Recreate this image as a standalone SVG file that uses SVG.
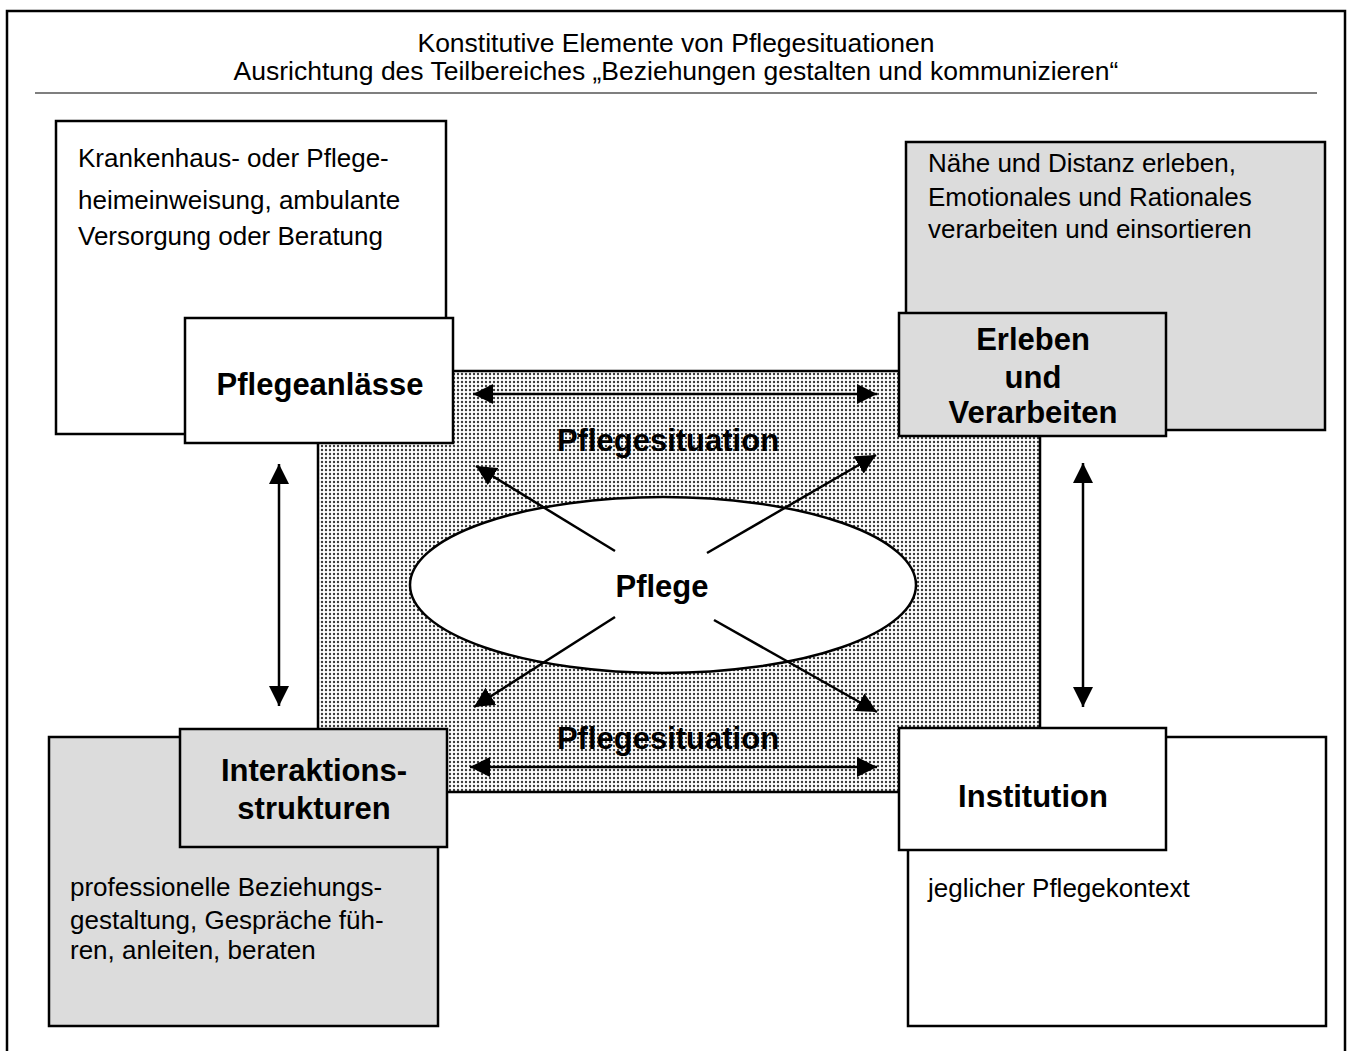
<svg xmlns="http://www.w3.org/2000/svg" width="1352" height="1051" viewBox="0 0 1352 1051">
<style>
.box{stroke:#000;stroke-width:2.5}
.w{fill:#fff}
.g{fill:#dcdcdc}
.t{font-family:"Liberation Sans",Arial,sans-serif;font-size:26px;fill:#000}
.h{font-family:"Liberation Sans",Arial,sans-serif;font-size:26.5px;fill:#000;text-anchor:middle}
.b{font-family:"Liberation Sans",Arial,sans-serif;font-size:31px;font-weight:bold;fill:#000;text-anchor:middle}
.c{stroke:#000;stroke-width:2.5;fill:none;marker-start:url(#ah);marker-end:url(#ah)}
.d{stroke:#000;stroke-width:2.5;fill:none;marker-end:url(#ah)}
</style>
<defs>
<pattern id="dots" patternUnits="userSpaceOnUse" width="4" height="4">
<rect width="4" height="4" fill="#fff"/>
<circle cx="2" cy="2" r="1.2" fill="#3a3a3a"/>
</pattern>
<marker id="ah" viewBox="0 0 20 20" refX="20" refY="10" markerWidth="20" markerHeight="20" markerUnits="userSpaceOnUse" orient="auto-start-reverse">
<path d="M0,0 L20,10 L0,20 z" fill="#000"/>
</marker>
</defs>
<rect width="1352" height="1051" fill="#fff"/>
<rect x="7" y="11" width="1338" height="1100" fill="none" stroke="#000" stroke-width="2.5"/>
<g id="title">
<text class="h" x="676" y="52">Konstitutive Elemente von Pflegesituationen</text>
<text class="h" x="676" y="80">Ausrichtung des Teilbereiches „Beziehungen gestalten und kommunizieren“</text>
<line x1="35" y1="93" x2="1317" y2="93" stroke="#555" stroke-width="1.5"/>
</g>
<g id="desc-anlaesse">
<rect class="box w" x="56" y="121" width="390" height="313"/>
<text class="t" x="78" y="167">Krankenhaus- oder Pflege-</text>
<text class="t" x="78" y="209">heimeinweisung, ambulante</text>
<text class="t" x="78" y="245">Versorgung oder Beratung</text>
</g>
<g id="desc-erleben">
<rect class="box g" x="906" y="142" width="419" height="288"/>
<text class="t" x="928" y="172">Nähe und Distanz erleben,</text>
<text class="t" x="928" y="206">Emotionales und Rationales</text>
<text class="t" x="928" y="238">verarbeiten und einsortieren</text>
</g>
<g id="desc-interaktion">
<rect class="box g" x="49" y="737" width="389" height="289"/>
<text class="t" x="70" y="896">professionelle Beziehungs-</text>
<text class="t" x="70" y="929">gestaltung, Gespräche füh-</text>
<text class="t" x="70" y="959">ren, anleiten, beraten</text>
</g>
<g id="desc-institution">
<rect class="box w" x="908" y="737" width="418" height="289"/>
<text class="t" x="928" y="897">jeglicher Pflegekontext</text>
</g>
<g id="pflegesituation">
<rect x="318" y="371" width="722" height="421" fill="url(#dots)" stroke="#000" stroke-width="2.5"/>
<text class="b" x="668" y="451">Pflegesituation</text>
<text class="b" x="668" y="749">Pflegesituation</text>
</g>
<g id="pflegeanlaesse">
<rect class="box w" x="185" y="318" width="268" height="125"/>
<text class="b" x="320" y="395">Pflegeanlässe</text>
</g>
<g id="erleben">
<rect class="box g" x="899" y="313" width="267" height="123"/>
<text class="b" x="1033" y="350">Erleben</text>
<text class="b" x="1033" y="388">und</text>
<text class="b" x="1033" y="423">Verarbeiten</text>
</g>
<g id="interaktion">
<rect class="box g" x="180" y="729" width="267" height="118"/>
<text class="b" x="314" y="781">Interaktions-</text>
<text class="b" x="314" y="819">strukturen</text>
</g>
<g id="institution">
<rect class="box w" x="899" y="728" width="267" height="122"/>
<text class="b" x="1033" y="807">Institution</text>
</g>
<g id="pflege">
<ellipse cx="663" cy="585" rx="253" ry="88" fill="#fff" stroke="#000" stroke-width="2.5"/>
<text class="b" x="662" y="597">Pflege</text>
</g>
<g id="connectors">
<line class="c" x1="473" y1="394" x2="877" y2="394"/>
<line class="c" x1="470" y1="767" x2="877" y2="767"/>
<line class="c" x1="279" y1="464" x2="279" y2="706"/>
<line class="c" x1="1083" y1="463" x2="1083" y2="707"/>
<line class="d" x1="615" y1="551" x2="476" y2="466"/>
<line class="d" x1="707" y1="553" x2="876" y2="455"/>
<line class="d" x1="615" y1="617" x2="474" y2="707"/>
<line class="d" x1="714" y1="620" x2="877" y2="712"/>
</g>
</svg>
